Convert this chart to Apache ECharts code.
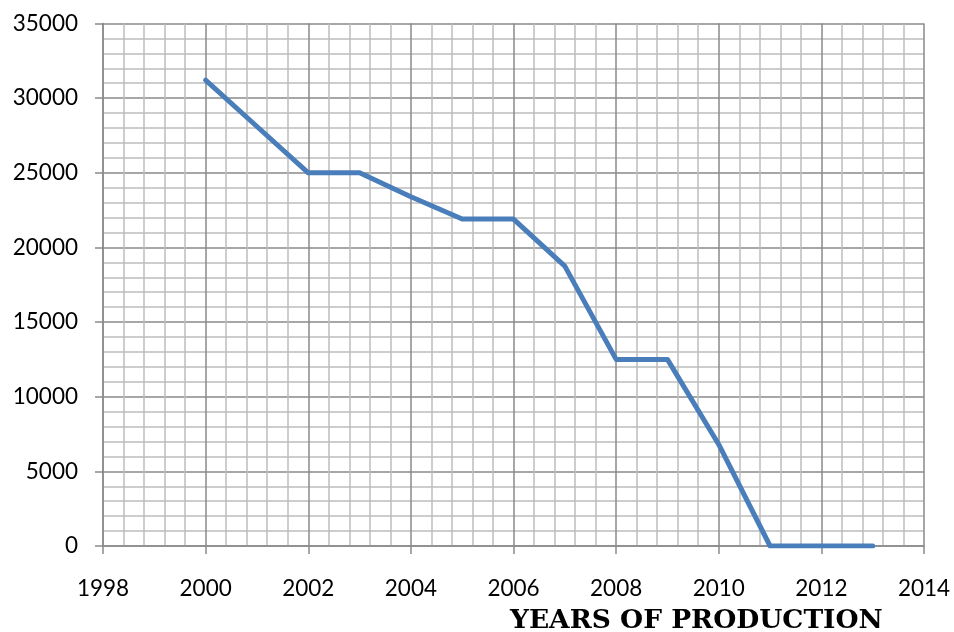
<!DOCTYPE html>
<html>
<head>
<meta charset="utf-8">
<script src="https://cdn.jsdelivr.net/npm/echarts@6/dist/echarts.min.js"></script>
<style>
html,body{margin:0;padding:0;background:#fff;}
#chart{width:954px;height:632px;}
</style>
</head>
<body>
<div id="chart"></div>
<script>
var years = [2000, 2001, 2002, 2003, 2004, 2005, 2006, 2007, 2008, 2009, 2010, 2011, 2012, 2013];
var production = [31200, 28100, 25000, 25000, 23400, 21900, 21900, 18750, 12500, 12500, 6800, 0, 0, 0];
var xAxisTitle = 'YEARS OF PRODUCTION';

var chart = echarts.init(document.getElementById('chart'));
var majorColor = '#8a8a8a';
var minorColor = '#bdbdbd';
function plain(v) { return String(v); }
chart.setOption({
  animation: false,
  grid: {left: 103, right: 30, top: 23.5, bottom: 86},
  xAxis: {
    type: 'value', min: 1998, max: 2014, interval: 2,
    axisLine: {show: true, onZero: false, lineStyle: {color: majorColor, width: 1.5}},
    axisTick: {show: true, inside: false, length: 8, lineStyle: {color: majorColor, width: 1.5}},
    axisLabel: {color: '#000', fontFamily: 'Lato', fontSize: 22.5, margin: 31, formatter: plain},
    splitLine: {show: true, lineStyle: {color: majorColor, width: 1.5}},
    minorTick: {show: false, splitNumber: 5},
    minorSplitLine: {show: true, lineStyle: {color: minorColor, width: 1.5}}
  },
  yAxis: {
    type: 'value', min: 0, max: 35000, interval: 5000,
    axisLine: {show: true, lineStyle: {color: majorColor, width: 1.5}},
    axisTick: {show: true, inside: false, length: 8, lineStyle: {color: majorColor, width: 1.5}},
    axisLabel: {color: '#000', fontFamily: 'Lato', fontSize: 22.5, margin: 25, formatter: plain},
    splitLine: {show: true, lineStyle: {color: majorColor, width: 1.5}},
    minorTick: {show: false, splitNumber: 5},
    minorSplitLine: {show: true, lineStyle: {color: minorColor, width: 1.5}}
  },
  graphic: [{
    type: 'text', left: 510, top: 608,
    style: {text: xAxisTitle, fill: '#000', font: 'bold 26.5px "DejaVu Serif"'}
  }],
  series: [{
    type: 'line',
    data: years.map(function (y, i) { return [y, production[i]]; }),
    symbol: 'none',
    lineStyle: {color: '#4a7ebb', width: 5, join: 'round', cap: 'round'}
  }]
});
</script>
</body>
</html>
